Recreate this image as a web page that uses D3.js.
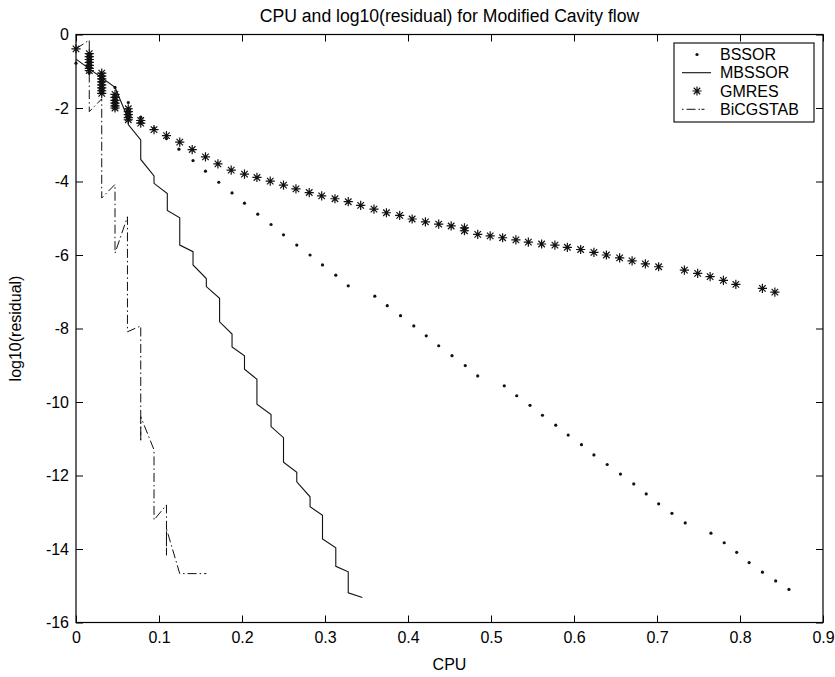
<!DOCTYPE html>
<html>
<head>
<meta charset="utf-8">
<script src="https://cdn.jsdelivr.net/npm/d3@7"></script>
<style>
  body { margin: 0; background: #fff; }
  text { font-family: "Liberation Sans", Arial, Helvetica, sans-serif; fill: #000; }
</style>
</head>
<body>
<div id="chart"></div>
<script>

// data
var xTicks = [0, 0.1, 0.2, 0.3, 0.4, 0.5, 0.6, 0.7, 0.8, 0.9];
var yTicks = [-16, -14, -12, -10, -8, -6, -4, -2, 0];

var bssorCpu = [0, 0.016, 0.016, 0.031, 0.031, 0.047, 0.063, 0.078, 0.094, 0.109,
  0.124, 0.141, 0.156, 0.172, 0.188, 0.203, 0.219, 0.235, 0.250, 0.266,
  0.282, 0.297, 0.313, 0.328, 0.360, 0.375, 0.391, 0.407, 0.422, 0.437,
  0.453, 0.469, 0.484, 0.516, 0.531, 0.547, 0.562, 0.578, 0.593, 0.609,
  0.624, 0.640, 0.656, 0.672, 0.687, 0.702, 0.718, 0.734, 0.765, 0.781,
  0.796, 0.811, 0.827, 0.843, 0.859];
var bssorRes = [-0.78, -0.9, -1.05, -1.15, -1.3, -1.44, -1.85, -2.25, -2.55, -2.83,
  -3.12, -3.43, -3.72, -4.02, -4.31, -4.59, -4.89, -5.17, -5.45, -5.73,
  -6.00, -6.27, -6.55, -6.84, -7.12, -7.38, -7.65, -7.93, -8.20, -8.47,
  -8.74, -9.01, -9.29, -9.56, -9.83, -10.09, -10.36, -10.63, -10.90, -11.16,
  -11.44, -11.70, -11.96, -12.23, -12.50, -12.77, -13.03, -13.29, -13.57, -13.83,
  -14.09, -14.37, -14.63, -14.87, -15.10];

var mbssorCpu = [0, 0.047, 0.063, 0.063, 0.078, 0.078, 0.094, 0.094, 0.110, 0.110,
  0.125, 0.125, 0.141, 0.141, 0.157, 0.157, 0.173, 0.173, 0.188, 0.188,
  0.203, 0.203, 0.218, 0.218, 0.235, 0.235, 0.250, 0.250, 0.266, 0.266,
  0.282, 0.282, 0.297, 0.297, 0.313, 0.313, 0.328, 0.328, 0.345];
var mbssorRes = [-0.67, -1.44, -2.3, -2.45, -2.87, -3.40, -3.85, -4.05, -4.33, -4.79,
  -4.99, -5.73, -5.91, -6.27, -6.64, -6.86, -7.18, -7.82, -8.15, -8.50,
  -8.74, -9.11, -9.38, -10.06, -10.34, -10.67, -10.97, -11.64, -11.91, -12.17,
  -12.58, -12.85, -13.08, -13.73, -13.97, -14.47, -14.62, -15.19, -15.32];

var gmresCpu = [0,
  0.016, 0.016, 0.016, 0.016, 0.016, 0.016, 0.016,
  0.031, 0.031, 0.031, 0.031, 0.031, 0.031, 0.031, 0.031,
  0.047, 0.047, 0.047, 0.047, 0.047, 0.047,
  0.063, 0.063, 0.063, 0.063, 0.063,
  0.078, 0.078, 0.094, 0.109, 0.125, 0.140, 0.156, 0.171, 0.187, 0.203,
  0.218, 0.234, 0.250, 0.265, 0.281, 0.296, 0.312, 0.328, 0.343, 0.359,
  0.374, 0.390, 0.405, 0.421, 0.437, 0.452, 0.468, 0.468, 0.484, 0.499,
  0.514, 0.530, 0.545, 0.561, 0.577, 0.592, 0.608, 0.624, 0.639, 0.655,
  0.670, 0.686, 0.702, 0.733, 0.749, 0.764, 0.780, 0.795, 0.827, 0.842];
var gmresRes = [-0.39,
  -0.52, -0.60, -0.68, -0.76, -0.84, -0.92, -0.98,
  -1.05, -1.13, -1.21, -1.29, -1.37, -1.45, -1.53, -1.60,
  -1.63, -1.71, -1.79, -1.87, -1.94, -2.00,
  -2.02, -2.10, -2.18, -2.26, -2.32,
  -2.34, -2.41, -2.59, -2.75, -2.93, -3.13, -3.33, -3.52, -3.69, -3.80,
  -3.89, -3.99, -4.10, -4.20, -4.30, -4.39, -4.47, -4.55, -4.65, -4.75,
  -4.85, -4.92, -5.02, -5.10, -5.16, -5.21, -5.26, -5.34, -5.44, -5.48,
  -5.53, -5.59, -5.65, -5.70, -5.73, -5.79, -5.85, -5.93, -6.00, -6.08,
  -6.16, -6.24, -6.32, -6.41, -6.50, -6.59, -6.69, -6.80, -6.91, -7.01];

var bicgCpu = [0, 0.016, 0.016, 0.031, 0.031, 0.047, 0.047, 0.062, 0.062, 0.078,
  0.078, 0.078, 0.094, 0.094, 0.109, 0.109, 0.109, 0.125, 0.141, 0.157];
var bicgRes = [-0.39, -0.15, -2.1, -1.75, -4.45, -4.08, -5.95, -4.96, -8.09, -7.93,
  -11.08, -10.4, -11.3, -13.21, -12.8, -14.17, -13.45, -14.67, -14.67, -14.67];

var seriesNames = ["BSSOR", "MBSSOR", "GMRES", "BiCGSTAB"];

function starPath(r) {
  var a = r * 0.707;
  return "M" + (-r) + ",0H" + r + "M0," + (-r) + "V" + r +
    "M" + (-a) + "," + (-a) + "L" + a + "," + a +
    "M" + (-a) + "," + a + "L" + a + "," + (-a);
}

function createChart() {
  var width = 835, height = 677;
  var left = 76, right = 823, top = 34.5, bottom = 622.5;

  var svg = d3.select("#chart").append("svg")
    .attr("width", width)
    .attr("height", height);

  svg.append("rect").attr("width", width).attr("height", height).attr("fill", "#fff");

  var x = d3.scaleLinear().domain([0, 0.9]).range([left, right]);
  var y = d3.scaleLinear().domain([-16, 0]).range([bottom, top]);

  var fmt = d => String(d);

  // axes, ticks pointing inwards on all four sides
  svg.append("g")
    .attr("transform", `translate(0,${bottom})`)
    .call(d3.axisBottom(x).tickValues(xTicks).tickSizeInner(-7).tickSizeOuter(0).tickPadding(9).tickFormat(fmt))
    .call(g => g.select(".domain").remove());
  svg.append("g")
    .attr("transform", `translate(0,${top})`)
    .call(d3.axisTop(x).tickValues(xTicks).tickSizeInner(-7).tickSizeOuter(0).tickFormat(""))
    .call(g => g.select(".domain").remove());
  svg.append("g")
    .attr("transform", `translate(${left},0)`)
    .call(d3.axisLeft(y).tickValues(yTicks).tickSizeInner(-7).tickSizeOuter(0).tickPadding(7).tickFormat(fmt))
    .call(g => g.select(".domain").remove());
  svg.append("g")
    .attr("transform", `translate(${right},0)`)
    .call(d3.axisRight(y).tickValues(yTicks).tickSizeInner(-7).tickSizeOuter(0).tickFormat(""))
    .call(g => g.select(".domain").remove());

  svg.selectAll(".tick text")
    .attr("font-size", 16)
    .attr("font-family", null);
  svg.selectAll(".tick line").attr("stroke", "#000");

  svg.append("rect")
    .attr("x", left).attr("y", top)
    .attr("width", right - left).attr("height", bottom - top)
    .attr("fill", "none").attr("stroke", "#000").attr("stroke-width", 1.2);

  // series
  var line = d3.line().x(d => x(d[0])).y(d => y(d[1]));

  var mbssor = mbssorCpu.map((c, i) => [c, mbssorRes[i]]);
  var bicg = bicgCpu.map((c, i) => [c, bicgRes[i]]);
  var bssor = bssorCpu.map((c, i) => [c, bssorRes[i]]);
  var gmres = gmresCpu.map((c, i) => [c, gmresRes[i]]);

  svg.append("path")
    .datum(mbssor)
    .attr("d", line)
    .attr("fill", "none").attr("stroke", "#111").attr("stroke-width", 1.1);

  svg.append("path")
    .datum(bicg)
    .attr("d", line)
    .attr("fill", "none").attr("stroke", "#111").attr("stroke-width", 1)
    .attr("stroke-dasharray", "9,3,1.5,3");

  svg.append("g").selectAll("circle")
    .data(bssor)
    .join("circle")
      .attr("cx", d => x(d[0]))
      .attr("cy", d => y(d[1]))
      .attr("r", 1.6)
      .attr("fill", "#111");

  svg.append("g").selectAll("path")
    .data(gmres)
    .join("path")
      .attr("transform", d => `translate(${x(d[0])},${y(d[1])})`)
      .attr("d", starPath(4.6))
      .attr("fill", "none")
      .attr("stroke", "#111")
      .attr("stroke-width", 1.2);

  // labels
  svg.append("text")
    .attr("x", (left + right) / 2).attr("y", 22)
    .attr("text-anchor", "middle").attr("font-size", 17.6)
    .text("CPU and log10(residual) for Modified Cavity flow");

  svg.append("text")
    .attr("x", (left + right) / 2).attr("y", 670)
    .attr("text-anchor", "middle").attr("font-size", 16)
    .text("CPU");

  svg.append("text")
    .attr("transform", `translate(21,${(top + bottom) / 2}) rotate(-90)`)
    .attr("text-anchor", "middle").attr("font-size", 16)
    .text("log10(residual)");

  // legend
  var lg = svg.append("g");
  lg.append("rect")
    .attr("x", 674).attr("y", 43).attr("width", 140).attr("height", 79)
    .attr("fill", "#fff").attr("stroke", "#000").attr("stroke-width", 1.1);

  var rowY = [54.5, 72.7, 91, 109.3];
  seriesNames.forEach(function(name, i) {
    var cy = rowY[i];
    if (i === 0) {
      lg.append("circle").attr("cx", 697).attr("cy", cy).attr("r", 1.6).attr("fill", "#111");
    } else if (i === 1) {
      lg.append("line").attr("x1", 682).attr("x2", 711).attr("y1", cy).attr("y2", cy)
        .attr("stroke", "#111").attr("stroke-width", 1.1);
    } else if (i === 2) {
      lg.append("path").attr("transform", `translate(697,${cy})`).attr("d", starPath(4.6))
        .attr("fill", "none").attr("stroke", "#111").attr("stroke-width", 1.2);
    } else {
      lg.append("line").attr("x1", 682).attr("x2", 711).attr("y1", cy).attr("y2", cy)
        .attr("stroke", "#111").attr("stroke-width", 1)
        .attr("stroke-dasharray", "1.5,3,9,3,1.5");
    }
    lg.append("text")
      .attr("x", 720).attr("y", cy).attr("dy", "0.35em")
      .attr("font-size", 16)
      .text(name);
  });
}

window.onload = createChart;
</script>
</body>
</html>
